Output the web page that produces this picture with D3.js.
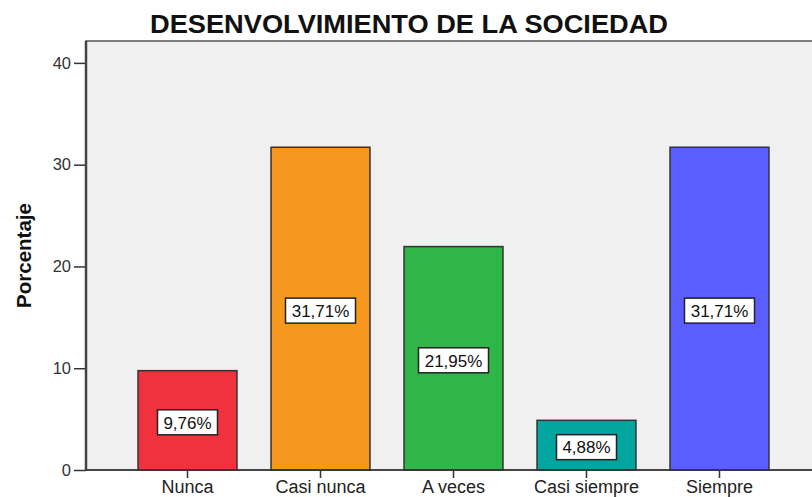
<!DOCTYPE html>
<html><head><meta charset="utf-8">
<script src="https://cdn.jsdelivr.net/npm/d3@7"></script>
<style>body{margin:0;background:#fff}svg{display:block}</style>
</head><body><svg id="c" width="812" height="497"></svg>
<script>
const categories = ["Nunca","Casi nunca","A veces","Casi siempre","Siempre"];
const values = [9.76, 31.71, 21.95, 4.88, 31.71];
const labels = ["9,76%","31,71%","21,95%","4,88%","31,71%"];
const colors = ["#EF323D","#F7981E","#2FB548","#00A69F","#5A5EFF"];
const yTicks = [0,10,20,30,40];

const FONT = "Liberation Sans, Arial, sans-serif";
const svg = d3.select("#c");
const mLeft = 86, mTop = 41, mRight = 812, mBottom = 470;
const y = d3.scaleLinear().domain([0, 42.15]).range([mBottom, mTop]);
const x = d3.scaleBand().domain(categories).range([121, 786]).paddingInner(0.256).paddingOuter(0.128);

svg.append("rect").attr("x", mLeft).attr("y", mTop).attr("width", mRight - mLeft + 5).attr("height", mBottom - mTop)
  .attr("fill", "#F0F0F0").attr("stroke", "#555").attr("stroke-width", 1.5);

svg.append("text").attr("x", 409).attr("y", 33).attr("text-anchor", "middle")
  .attr("font-family", FONT).attr("font-weight", "bold").attr("font-size", 25.5)
  .attr("textLength", 518).attr("lengthAdjust", "spacingAndGlyphs")
  .attr("fill", "#111").text("DESENVOLVIMIENTO DE LA SOCIEDAD");

svg.selectAll("rect.bar").data(values).join("rect").attr("class", "bar")
  .attr("x", (d, i) => x(categories[i])).attr("width", x.bandwidth())
  .attr("y", d => y(d)).attr("height", d => y(0) - y(d))
  .attr("fill", (d, i) => colors[i]).attr("stroke", "#333").attr("stroke-width", 1.5);

const g = svg.selectAll("g.lab").data(values).join("g").attr("class", "lab")
  .attr("transform", (d, i) => `translate(${x(categories[i]) + x.bandwidth() / 2},${(y(d) + y(0)) / 2 + 2})`);
g.append("rect").attr("x", d => d >= 10 ? -35 : -30).attr("y", -12.5)
  .attr("width", d => d >= 10 ? 70 : 60).attr("height", 25)
  .attr("fill", "#fff").attr("stroke", "#222").attr("stroke-width", 1.5);
g.append("text").attr("text-anchor", "middle").attr("y", 6.2)
  .attr("font-family", FONT).attr("font-size", 17).attr("fill", "#111")
  .text((d, i) => labels[i]);

const yAxis = svg.append("g").attr("transform", `translate(${mLeft},0)`)
  .call(d3.axisLeft(y).tickValues(yTicks).tickSize(12).tickPadding(3));
yAxis.select(".domain").remove();
yAxis.selectAll("line").attr("stroke", "#333").attr("stroke-width", 1.5);
yAxis.selectAll("text").attr("font-family", FONT).attr("font-size", 16.5).attr("fill", "#333");
svg.append("line").attr("x1", mLeft).attr("x2", mLeft).attr("y1", mTop).attr("y2", mBottom + 1)
  .attr("stroke", "#444").attr("stroke-width", 2.5);

const xAxis = svg.append("g").attr("transform", `translate(0,${mBottom})`)
  .call(d3.axisBottom(x).tickSize(8).tickPadding(0));
xAxis.select(".domain").remove();
xAxis.selectAll("line").attr("stroke", "#333").attr("stroke-width", 1.5);
xAxis.selectAll("text").attr("dy", null).attr("y", 22.5)
  .attr("font-family", FONT).attr("font-size", 18).attr("fill", "#222");
svg.append("line").attr("x1", mLeft).attr("x2", mRight).attr("y1", mBottom).attr("y2", mBottom)
  .attr("stroke", "#333").attr("stroke-width", 1.5);

svg.append("text").attr("transform", `translate(31,${(mTop + mBottom) / 2}) rotate(-90)`)
  .attr("text-anchor", "middle").attr("font-family", FONT)
  .attr("font-weight", "bold").attr("font-size", 20.5).attr("fill", "#111").text("Porcentaje");
</script></body></html>
